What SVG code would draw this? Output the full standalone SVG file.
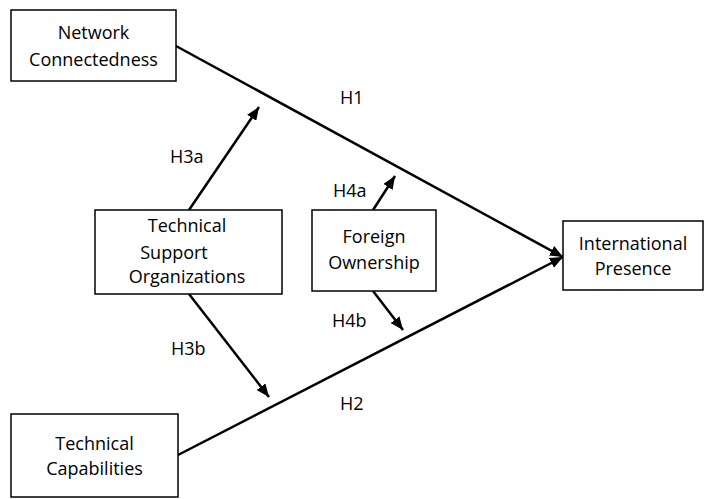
<svg xmlns="http://www.w3.org/2000/svg" width="705" height="499" viewBox="0 0 705 499">
<style>
.box{fill:#fff;stroke:#000;stroke-width:1.5}
.t{font-family:"Open Sans","DejaVu Sans",sans-serif;font-size:18px;fill:#000;text-anchor:middle}
.l{font-family:"Open Sans","DejaVu Sans",sans-serif;font-size:18px;fill:#000}
.c{stroke:#000;stroke-width:2.5;fill:none;marker-end:url(#ah)}
</style>
<defs>
<marker id="ah" markerUnits="userSpaceOnUse" markerWidth="13" markerHeight="11" refX="13" refY="5.5" orient="auto">
<path d="M0,0 L13,5.5 L0,11 Z" fill="#000"/>
</marker>
</defs>
<rect width="705" height="499" fill="#fff"/>
<g id="connectors">
<line class="c" x1="176" y1="46" x2="563" y2="257"/>
<line class="c" x1="178" y1="455" x2="563" y2="257"/>
<line class="c" x1="189" y1="210" x2="259" y2="107"/>
<line class="c" x1="189" y1="294" x2="269" y2="397"/>
<line class="c" x1="373" y1="210" x2="395" y2="176"/>
<line class="c" x1="373" y1="291" x2="403" y2="330"/>
<text class="l" x="340" y="104">H1</text>
<text class="l" x="340" y="410">H2</text>
<text class="l" x="170" y="163">H3a</text>
<text class="l" x="171" y="355">H3b</text>
<text class="l" x="333" y="197">H4a</text>
<text class="l" x="332" y="327">H4b</text>
</g>
<g id="network-connectedness">
<rect class="box" x="11" y="10" width="165" height="71"/>
<text class="t" x="93.5" y="39">Network</text>
<text class="t" x="93.5" y="66">Connectedness</text>
</g>
<g id="technical-capabilities">
<rect class="box" x="11" y="414" width="167" height="83"/>
<text class="t" x="94.5" y="450">Technical</text>
<text class="t" x="94.5" y="475">Capabilities</text>
</g>
<g id="technical-support-organizations">
<rect class="box" x="95" y="210" width="187" height="84"/>
<text class="t" x="187" y="232">Technical</text>
<text class="t" x="174" y="259">Support</text>
<text class="t" x="187" y="283">Organizations</text>
</g>
<g id="foreign-ownership">
<rect class="box" x="312" y="210" width="124" height="81"/>
<text class="t" x="374" y="243">Foreign</text>
<text class="t" x="374" y="269">Ownership</text>
</g>
<g id="international-presence">
<rect class="box" x="563" y="221" width="140" height="69"/>
<text class="t" x="633" y="250">International</text>
<text class="t" x="633" y="275">Presence</text>
</g>
</svg>
